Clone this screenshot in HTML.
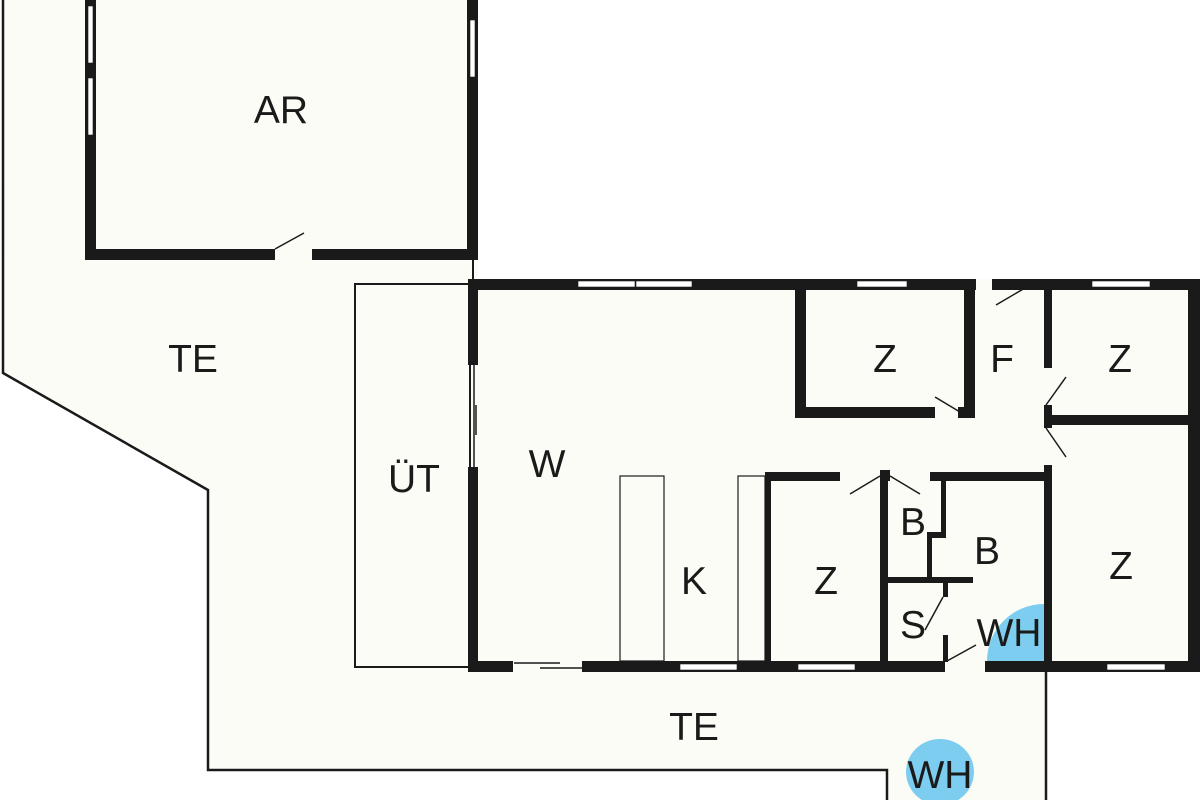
<!DOCTYPE html>
<html><head><meta charset="utf-8"><style>
html,body{margin:0;padding:0;background:#fff;}
svg{display:block;}
text{font-family:"Liberation Sans",sans-serif;font-size:39px;fill:#1a1a1a;text-anchor:middle;}
</style></head><body>
<svg width="1200" height="800" viewBox="0 0 1200 800" xmlns="http://www.w3.org/2000/svg">
<polygon points="3,0 478,0 478,279 1200,279 1200,672 1046,672 1046,800 887,800 887,770 208,770 208,490 3,373" fill="#fcfcf6"/>
<g fill="none" stroke="#1a1a1a" stroke-width="2.5">
<polyline points="3,0 3,373 208,490 208,770 887,770 887,800"/>
<line x1="1046" y1="672" x2="1046" y2="800"/>
<rect x="355" y="284" width="115" height="383" stroke-width="2"/>
<line x1="473" y1="260" x2="473" y2="282" stroke-width="2"/>
</g>
<path d="M1044,661 L987,661 A57,57 0 0 1 1044,604 Z" fill="#7ccdef"/>
<ellipse cx="940" cy="772" rx="34" ry="33" fill="#7ccdef"/>
<g fill="#1a1a1a">
<rect x="85" y="0" width="11" height="260"/>
<rect x="85" y="249" width="190" height="11"/>
<rect x="312" y="249" width="166" height="11"/>
<rect x="467" y="0" width="11" height="260"/>
<rect x="468" y="279" width="508" height="11"/>
<rect x="992" y="279" width="208" height="11"/>
<rect x="1188" y="279" width="12" height="393"/>
<rect x="468" y="661" width="45" height="11"/>
<rect x="582" y="661" width="363" height="11"/>
<rect x="985" y="661" width="215" height="11"/>
<rect x="468" y="279" width="10" height="86"/>
<rect x="468" y="467" width="10" height="205"/>
<rect x="795" y="290" width="11" height="128"/>
<rect x="795" y="407" width="140" height="11"/>
<rect x="958" y="407" width="17" height="11"/>
<rect x="964" y="290" width="11" height="128"/>
<rect x="1044" y="290" width="8" height="78"/>
<rect x="1044" y="405" width="8" height="23"/>
<rect x="1044" y="465" width="8" height="200"/>
<rect x="1052" y="415" width="136" height="10"/>
<rect x="765" y="472" width="75" height="9"/>
<rect x="880" y="470" width="10" height="11"/>
<rect x="930" y="472" width="115" height="9"/>
<rect x="765" y="472" width="6" height="190"/>
<rect x="880" y="472" width="8" height="190"/>
<rect x="941" y="481" width="5" height="55"/>
<rect x="927" y="532" width="19" height="6"/>
<rect x="927" y="535" width="5" height="45"/>
<rect x="888" y="577" width="85" height="6"/>
<rect x="943" y="583" width="5" height="14"/>
<rect x="943" y="635" width="5" height="27"/>
</g>
<g fill="#fff" stroke="#1a1a1a" stroke-width="0.6">
<rect x="88" y="6" width="5" height="57"/>
<rect x="88" y="78" width="5" height="57"/>
<rect x="470" y="20" width="5" height="57"/>
<rect x="578" y="281" width="57" height="6"/>
<rect x="636" y="281" width="56" height="6"/>
<rect x="857" y="281" width="50" height="6"/>
<rect x="1092" y="281" width="58" height="6"/>
<rect x="680" y="664" width="57" height="6"/>
<rect x="798" y="664" width="57" height="6"/>
<rect x="1107" y="664" width="58" height="6"/>
</g>
<g stroke="#1a1a1a" stroke-width="1.5" fill="none">
<line x1="275" y1="249" x2="304" y2="233"/>
<line x1="474" y1="365" x2="474" y2="467"/>
<line x1="476" y1="405" x2="476" y2="435"/>
<line x1="514" y1="663" x2="560" y2="663"/>
<line x1="540" y1="668" x2="582" y2="668"/>
<line x1="935" y1="397" x2="960" y2="412"/>
<line x1="996" y1="305" x2="1025" y2="288"/>
<line x1="1046" y1="405" x2="1066" y2="377"/>
<line x1="1046" y1="428" x2="1066" y2="457"/>
<line x1="880" y1="476" x2="850" y2="494"/>
<line x1="890" y1="476" x2="920" y2="494"/>
<line x1="943" y1="597" x2="925" y2="630"/>
<line x1="947" y1="661" x2="976" y2="645"/>
<rect x="620" y="476" width="44" height="185" stroke-width="1.2"/>
<rect x="738" y="476" width="27" height="185" stroke-width="1.2"/>
</g>
<text x="281" y="123">AR</text>
<text x="193" y="372">TE</text>
<text x="414" y="492">ÜT</text>
<text x="547" y="477">W</text>
<text x="694" y="594">K</text>
<text x="885" y="372">Z</text>
<text x="1002" y="372">F</text>
<text x="1120" y="372">Z</text>
<text x="826" y="594">Z</text>
<text x="913" y="535">B</text>
<text x="987" y="564">B</text>
<text x="1121" y="579">Z</text>
<text x="913" y="638">S</text>
<text x="1009" y="646">WH</text>
<text x="694" y="740">TE</text>
<text x="940" y="788">WH</text>
</svg>
</body></html>
